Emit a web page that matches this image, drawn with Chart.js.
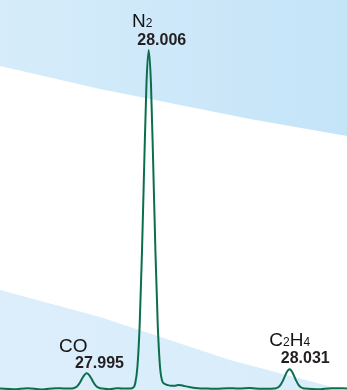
<!DOCTYPE html>
<html>
<head>
<meta charset="utf-8">
<script src="https://cdn.jsdelivr.net/npm/chart.js@4"></script>
<style>
  html, body { margin: 0; padding: 0; background: #ffffff; }
  #wrap { position: relative; width: 347px; height: 390px; overflow: hidden; background: #ffffff; }
  .band { position: absolute; left: 0; top: 0; width: 347px; height: 390px; }
  #bandTop {
    background: linear-gradient(to right, #d6ecfa, #c4e4f8);
    clip-path: polygon(0px 0px, 347px 0px, 347px 136px, 250px 119px, 100px 89px, 0px 66px);
  }
  #bandBottom {
    background: linear-gradient(to right, #dceefb, #d8ecfa);
    clip-path: polygon(0px 290px, 100px 317px, 230px 360px, 347px 391px, 347px 390px, 0px 390px);
  }
  canvas { position: absolute; left: 0; top: 0; }
</style>
</head>
<body>
<div id="wrap">
  <div class="band" id="bandTop"></div>
  <div class="band" id="bandBottom"></div>
  <canvas id="c" width="347" height="390"></canvas>
</div>
<script>
// Mass-to-charge axis (m/z) and relative intensity (%) of the spectrum trace
const mz = [
  27.9796, 27.9820, 27.9845, 27.9870, 27.9895, 27.9912,
  27.9922, 27.9926, 27.9930, 27.9934, 27.9938, 27.9942, 27.9946, 27.9950,
  27.9954, 27.9958, 27.9962, 27.9966, 27.9970, 27.9974, 27.9978,
  27.9990, 28.0003, 28.0012,
  28.0028, 28.0032, 28.0036, 28.0040, 28.0044, 28.0048, 28.0052, 28.0056, 28.0060,
  28.0064, 28.0068, 28.0072, 28.0076, 28.0080, 28.0084, 28.0088,
  28.0094, 28.0100, 28.0106, 28.0112, 28.0118, 28.0124, 28.0134, 28.0148, 28.0165,
  28.0180, 28.0200, 28.0220, 28.0240, 28.0260, 28.0282,
  28.0286, 28.0290, 28.0294, 28.0298, 28.0302, 28.0306, 28.0310,
  28.0314, 28.0318, 28.0322, 28.0326, 28.0330, 28.0334, 28.0338,
  28.0360, 28.0385, 28.0412
];
const intensity = [
  0, -0.2, 0.1, -0.3, 0.1, 0,
  0, 0.08, 0.3, 0.85, 1.8, 3.0, 4.05, 4.5,
  4.05, 3.0, 1.8, 0.85, 0.3, 0.08, 0,
  -0.2, 0.1, 0,
  0, 0.2, 1.5, 6.5, 19, 40, 66, 90, 100,
  90, 66, 40, 19, 6.5, 2.2, 1.4,
  1.0, 0.8, 0.8, 1.0, 0.95, 0.7, 0.4, 0.1, 0,
  -0.1, 0.1, 0, 0.15, -0.1, 0,
  0.1, 0.37, 1.05, 2.25, 3.75, 5.1, 5.67,
  5.1, 3.75, 2.25, 1.05, 0.37, 0.1, 0,
  -0.2, 0.1, 0
];

// Identified peaks
const peakNames = ['CO', 'N2', 'C2H4'];
const peakMz = [27.995, 28.006, 28.031];
const peakIntensity = [4.5, 100, 5.67];

const points = mz.map((x, i) => ({ x: x, y: intensity[i] }));

// Placement of each peak's formula and mass label, relative to the peak apex
const labelLayout = [
  { nameDx: -27.7, nameDy: -21,   valueDx: -11.7, valueDy: -5 },
  { nameDx: -16.7, nameDy: -22.7, valueDx: -11.4, valueDy: -5 },
  { nameDx: -20.2, nameDy: -23.3, valueDx: -8.8,  valueDy: -6 }
];

const FONT = '"Liberation Sans", Arial, Helvetica, sans-serif';

// Draws a chemical formula with digits set smaller on the same baseline
function drawFormula(ctx, text, x, y) {
  let cx = x;
  for (const ch of text) {
    const isDigit = /[0-9]/.test(ch);
    ctx.font = (isDigit ? '12px ' : '19px ') + FONT;
    ctx.fillText(ch, cx, y);
    cx += ctx.measureText(ch).width;
  }
}

const peakLabels = {
  id: 'peakLabels',
  afterDatasetsDraw(chart) {
    const ctx = chart.ctx;
    const xs = chart.scales.x, ys = chart.scales.y;
    ctx.save();
    ctx.textAlign = 'left';
    ctx.textBaseline = 'alphabetic';
    peakNames.forEach((name, i) => {
      const px = xs.getPixelForValue(peakMz[i]);
      const py = ys.getPixelForValue(peakIntensity[i]);
      const L = labelLayout[i];
      ctx.fillStyle = '#141414';
      drawFormula(ctx, name, px + L.nameDx, py + L.nameDy);
      ctx.fillStyle = '#231f20';
      ctx.font = 'bold 16px ' + FONT;
      ctx.fillText(peakMz[i].toFixed(3), px + L.valueDx, py + L.valueDy);
    });
    ctx.restore();
  }
};

new Chart(document.getElementById('c'), {
  type: 'line',
  data: {
    datasets: [{
      data: points,
      borderColor: '#0b6f4e',
      borderWidth: 2,
      pointRadius: 0,
      fill: false,
      cubicInterpolationMode: 'monotone'
    }]
  },
  options: {
    responsive: false,
    animation: false,
    events: [],
    layout: { padding: 0 },
    plugins: { legend: { display: false }, tooltip: { enabled: false } },
    scales: {
      x: { type: 'linear', min: 27.9796, max: 28.0412, display: false },
      y: { type: 'linear', min: -0.443, max: 114.77, display: false }
    }
  },
  plugins: [peakLabels]
});
</script>
</body>
</html>
